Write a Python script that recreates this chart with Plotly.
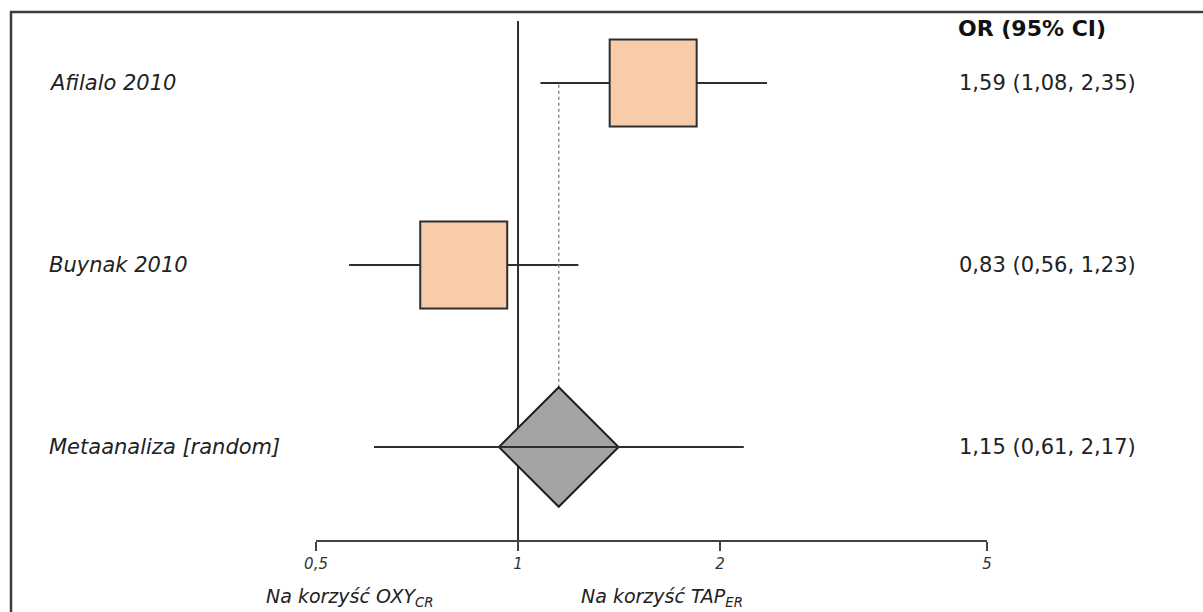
import math
import plotly.graph_objects as go

# ---- data ----
studies = ["Afilalo 2010", "Buynak 2010"]
study_or = [1.59, 0.83]
study_lo = [1.08, 0.56]
study_hi = [2.35, 1.23]
study_rows = [3, 2]

meta_label = "Metaanaliza [random]"
meta_or = 1.15
meta_lo = 0.61
meta_hi = 2.17
meta_row = 1

tick_vals = [0.5, 1, 2, 5]
tick_text = ["0,5", "1", "2", "5"]
header = "OR (95% CI)"
left_note = "Na korzyść OXY<sub>CR</sub>"
right_note = "Na korzyść TAP<sub>ER</sub>"

W, H = 1203, 612
FONT = "DejaVu Sans"
DARK = "#2e2e2e"

def fmt(v):
    return f"{v:.2f}".replace(".", ",")

def ci_text(o, l, h):
    return f"{fmt(o)} ({fmt(l)}, {fmt(h)})"

# axis geometry
x_range = [-0.772, 1.0208]
y_range = [0.0934, 3.456]
axis_y = 0.4835
axis_pos = (axis_y - y_range[0]) / (y_range[1] - y_range[0])

fig = go.Figure()

# study CI lines
cx, cy = [], []
for lo, hi, r in zip(study_lo, study_hi, study_rows):
    cx += [lo, hi, None]
    cy += [r, r, None]
fig.add_trace(go.Scatter(x=cx, y=cy, mode="lines",
                         line=dict(color=DARK, width=2), hoverinfo="skip"))

# no-effect line at 1
fig.add_trace(go.Scatter(x=[1, 1], y=[3.34, axis_y], mode="lines",
                         line=dict(color=DARK, width=2), hoverinfo="skip"))

# axis line between first and last tick
fig.add_trace(go.Scatter(x=[tick_vals[0], tick_vals[-1]], y=[axis_y, axis_y],
                         mode="lines", line=dict(color="#444444", width=2),
                         hoverinfo="skip"))

# dotted pooled-estimate line
fig.add_trace(go.Scatter(x=[meta_or, meta_or], y=[2.99, 1.33], mode="lines",
                         line=dict(color="#8a8a8a", width=1.5, dash="dot"),
                         hoverinfo="skip"))

# study squares
fig.add_trace(go.Scatter(x=study_or, y=study_rows, mode="markers",
                         marker=dict(symbol="square", size=87, color="#F8CBA9",
                                     line=dict(color=DARK, width=2)),
                         hoverinfo="skip"))

# pooled diamond
fig.add_trace(go.Scatter(x=[meta_or], y=[meta_row], mode="markers",
                         marker=dict(symbol="diamond", size=92, color="#A4A4A4",
                                     line=dict(color="#1e1e1e", width=2)),
                         hoverinfo="skip"))

# pooled CI line over diamond
fig.add_trace(go.Scatter(x=[meta_lo, meta_hi], y=[meta_row, meta_row], mode="lines",
                         line=dict(color=DARK, width=2), hoverinfo="skip"))

annotations = []
labels = studies + [meta_label]
rows = study_rows + [meta_row]
texts = [ci_text(o, l, h) for o, l, h in zip(study_or, study_lo, study_hi)] + \
        [ci_text(meta_or, meta_lo, meta_hi)]
for lab, r, t in zip(labels, rows, texts):
    annotations.append(dict(x=47 / W, xref="paper", y=r, yref="y", text=f"<i>{lab}</i>",
                            showarrow=False, xanchor="left", yanchor="middle",
                            font=dict(family=FONT, size=21, color="#222222")))
    annotations.append(dict(x=957 / W, xref="paper", y=r, yref="y", text=t,
                            showarrow=False, xanchor="left", yanchor="middle",
                            font=dict(family=FONT, size=21, color="#222222")))
annotations.append(dict(x=956 / W, xref="paper", y=3.30, yref="y", text=f"<b>{header}</b>",
                        showarrow=False, xanchor="left", yanchor="middle",
                        font=dict(family=FONT, size=22, color="#111111")))
annotations.append(dict(x=350 / W, xref="paper", y=(H - 597) / H, yref="paper",
                        text=f"<i>{left_note}</i>", showarrow=False, xanchor="center",
                        yanchor="middle", font=dict(family=FONT, size=19, color="#222222")))
annotations.append(dict(x=662 / W, xref="paper", y=(H - 597) / H, yref="paper",
                        text=f"<i>{right_note}</i>", showarrow=False, xanchor="center",
                        yanchor="middle", font=dict(family=FONT, size=19, color="#222222")))

fig.update_layout(
    width=W, height=H,
    margin=dict(l=0, r=0, t=0, b=0),
    paper_bgcolor="white", plot_bgcolor="white",
    showlegend=False,
    annotations=annotations,
    shapes=[dict(type="rect", xref="paper", yref="paper",
                 x0=11 / W, x1=1.02, y0=-0.05, y1=1 - 12 / H,
                 line=dict(color="#3c3c3c", width=2.5), fillcolor="rgba(0,0,0,0)",
                 layer="above")],
    xaxis=dict(type="log", range=x_range, tickvals=tick_vals,
               ticktext=[f"<i>{t}</i>" for t in tick_text],
               ticks="outside", ticklen=9, tickwidth=2, tickcolor="#444444",
               showline=False, showgrid=False, zeroline=False,
               anchor="free", position=axis_pos,
               tickfont=dict(family=FONT, size=15, color="#333333")),
    yaxis=dict(range=y_range, visible=False, showgrid=False, zeroline=False),
)

fig.write_html("out.html")
